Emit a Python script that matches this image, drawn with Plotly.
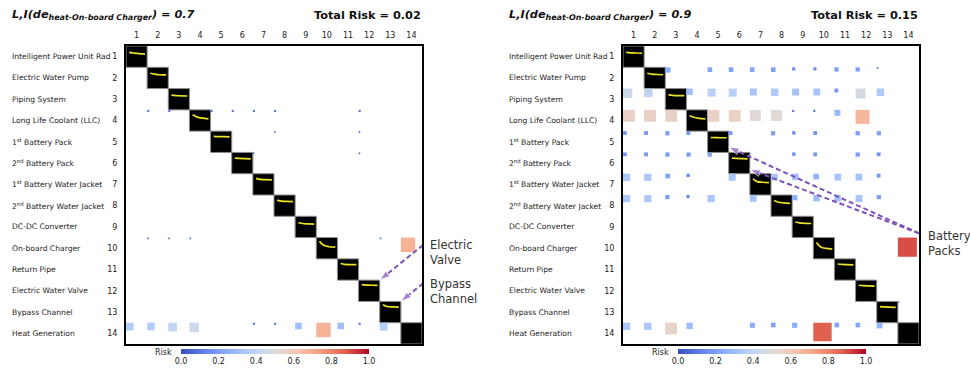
import plotly.graph_objects as go
from plotly.colors import sample_colorscale

W, H = 970, 369
FONT = "DejaVu Sans"

# ---------------- data ----------------
n_items = 14
item_ids = list(range(1, 15))
item_labels = ["Intelligent Power Unit Rad", "Electric Water Pump", "Piping System",
               "Long Life Coolant (LLC)", "1<sup>st</sup> Battery Pack", "2<sup>nd</sup> Battery Pack",
               "1<sup>st</sup> Battery Water Jacket", "2<sup>nd</sup> Battery Water Jacket",
               "DC-DC Converter", "On-board Charger", "Return Pipe", "Electric Water Valve",
               "Bypass Channel", "Heat Generation"]
cbar_ticks = [0.0, 0.2, 0.4, 0.6, 0.8, 1.0]

# Left panel: L,I = 0.7, total risk 0.02
left_li = 0.7
left_total = 0.02
left_rows = [4, 4, 4, 4, 4, 4, 4,
             5, 5,
             6, 6,
             10, 10, 10, 10, 10,
             14, 14, 14, 14, 14, 14, 14, 14, 14, 14, 14]
left_cols = [2, 3, 5, 6, 7, 8, 12,
             8, 12,
             7, 12,
             2, 3, 4, 13, 14,
             1, 2, 3, 4, 7, 8, 9, 10, 11, 12, 13]
left_vals = [0.1, 0.1, 0.1, 0.1, 0.1, 0.1, 0.1,
             0.08, 0.08,
             0.07, 0.08,
             0.08, 0.08, 0.08, 0.08, 0.68,
             0.36, 0.36, 0.41, 0.45, 0.1, 0.1, 0.31, 0.68, 0.31, 0.1, 0.37]

# Right panel: L,I = 0.9, total risk 0.15
right_li = 0.9
right_total = 0.15
right_rows = ([2] * 10 + [3] * 12 + [4] * 11 + [5] * 10 + [6] * 9 + [7] * 11 + [8] * 11
              + [10, 13] + [14] * 11)
right_cols = ([3, 5, 6, 7, 8, 9, 10, 11, 12, 13]
              + [1, 2, 4, 5, 6, 7, 8, 9, 10, 11, 12, 13]
              + [1, 2, 3, 5, 6, 7, 8, 9, 10, 11, 12]
              + [1, 2, 3, 4, 6, 8, 9, 10, 12, 13]
              + [1, 2, 3, 4, 5, 9, 10, 12, 13]
              + [1, 2, 3, 4, 6, 8, 9, 10, 11, 12, 13]
              + [1, 2, 3, 4, 5, 7, 9, 10, 11, 12, 13]
              + [14, 14]
              + [1, 2, 3, 4, 7, 8, 9, 10, 11, 12, 13])
right_vals = ([0.25, 0.22, 0.22, 0.22, 0.22, 0.15, 0.15, 0.2, 0.2, 0.08]
              + [0.44, 0.4, 0.3, 0.38, 0.38, 0.33, 0.35, 0.33, 0.33, 0.18, 0.47, 0.35]
              + [0.56, 0.56, 0.56, 0.56, 0.56, 0.52, 0.52, 0.1, 0.1, 0.28, 0.66]
              + [0.18, 0.18, 0.2, 0.18, 0.18, 0.2, 0.16, 0.18, 0.2, 0.2]
              + [0.18, 0.18, 0.2, 0.2, 0.2, 0.16, 0.18, 0.2, 0.18]
              + [0.34, 0.34, 0.22, 0.16, 0.33, 0.32, 0.3, 0.27, 0.32, 0.32, 0.18]
              + [0.34, 0.34, 0.2, 0.15, 0.34, 0.32, 0.25, 0.3, 0.3, 0.33, 0.2]
              + [0.9, 0.07]
              + [0.34, 0.34, 0.55, 0.3, 0.24, 0.22, 0.24, 0.87, 0.22, 0.22, 0.27])

# small response curves drawn in diagonal cells (relative heights at 4 sample points)
curve_fracs = [0.15, 0.35, 0.6, 0.9]
left_curves = [[0.30, 0.33, 0.36, 0.37], [0.28, 0.32, 0.35, 0.36], [0.31, 0.33, 0.34, 0.35],
               [0.23, 0.33, 0.39, 0.42], [0.25, 0.26, 0.26, 0.27], [0.27, 0.28, 0.29, 0.30],
               [0.22, 0.27, 0.28, 0.29], [0.24, 0.29, 0.30, 0.31], [0.29, 0.34, 0.36, 0.37],
               [0.18, 0.36, 0.43, 0.45], [0.22, 0.26, 0.27, 0.27], [0.21, 0.23, 0.24, 0.25],
               [0.16, 0.24, 0.26, 0.27]]
right_curves = [[0.30, 0.32, 0.33, 0.34], [0.28, 0.32, 0.34, 0.35], [0.30, 0.32, 0.33, 0.33],
                [0.26, 0.35, 0.40, 0.42], [0.30, 0.30, 0.31, 0.31], [0.27, 0.28, 0.29, 0.30],
                [0.24, 0.37, 0.40, 0.42], [0.26, 0.34, 0.37, 0.39], [0.27, 0.31, 0.33, 0.34],
                [0.23, 0.44, 0.51, 0.54], [0.24, 0.26, 0.27, 0.28], [0.24, 0.26, 0.27, 0.28],
                [0.24, 0.26, 0.27, 0.28]]

coolwarm = [[0.0, "rgb(59,76,192)"], [0.125, "rgb(98,130,234)"], [0.25, "rgb(141,176,254)"],
            [0.375, "rgb(184,208,249)"], [0.5, "rgb(221,221,221)"], [0.625, "rgb(245,196,173)"],
            [0.75, "rgb(244,154,123)"], [0.875, "rgb(222,96,77)"], [1.0, "rgb(180,4,38)"]]

ARROW_C = "#7d52bd"


def px(x):
    return x / W


def py(y):
    return 1 - y / H


fig = go.Figure()
shapes = []
annotations = []

panels = [
    dict(xa="x", ya="y", xl="xaxis", yl="yaxis", box=(126, 422), lbl_x=9.5,
         rows=left_rows, cols=left_cols, vals=left_vals, curves=left_curves,
         li=left_li, total=left_total, cax="coloraxis", cb_x=(181, 369), risk_x=153,
         arrows=[((14.55, 9.85), (12.5, 11.5)), ((14.55, 11.65), (13.5, 12.5))],
         notes=[("Electric<br>Valve", 428, 253), ("Bypass<br>Channel", 428, 291)]),
    dict(xa="x2", ya="y2", xl="xaxis2", yl="yaxis2", box=(623, 919), lbl_x=507,
         rows=right_rows, cols=right_cols, vals=right_vals, curves=right_curves,
         li=right_li, total=right_total, cax="coloraxis2", cb_x=(678, 866), risk_x=650,
         arrows=[((14.5, 9.3), (5.5, 5.25)), ((14.5, 9.3), (6.5, 6.3))],
         notes=[("Battery<br>Packs", 926, 243)]),
]

top, bottom = 46, 344

for p in panels:
    # diagonal cells
    for i in item_ids:
        shapes.append(dict(type="rect", xref=p["xa"], yref=p["ya"], x0=i - 0.5, x1=i + 0.5,
                           y0=i - 0.5, y1=i + 0.5, fillcolor="black",
                           line=dict(color="#8c8c8c", width=1), layer="below"))
    # risk squares
    for r, c, v in zip(p["rows"], p["cols"], p["vals"]):
        col = sample_colorscale(coolwarm, [v])[0]
        shapes.append(dict(type="rect", xref=p["xa"], yref=p["ya"], x0=c - 0.5, x1=c - 0.5 + v,
                           y0=r - 0.5, y1=r - 0.5 + v, fillcolor=col, line=dict(width=0),
                           layer="below"))
    # curves
    cx, cy = [], []
    for i, cv in enumerate(p["curves"], start=1):
        cx += [i - 0.5 + f for f in curve_fracs] + [None]
        cy += [i - 0.5 + h for h in cv] + [None]
    fig.add_trace(go.Scatter(x=cx, y=cy, xaxis=p["xa"], yaxis=p["ya"], mode="lines",
                             line=dict(color="#ece22a", width=1.7, shape="spline"),
                             hoverinfo="skip"))
    # colorbar dummy
    fig.add_trace(go.Scatter(x=[1, 1], y=[1, 1], xaxis=p["xa"], yaxis=p["ya"], mode="markers",
                             marker=dict(size=0, color=[0, 1], coloraxis=p["cax"], opacity=0),
                             hoverinfo="skip"))
    # arrows
    for (tx, ty), (hx, hy) in p["arrows"]:
        fig.add_trace(go.Scatter(x=[tx, hx], y=[ty, hy], xaxis=p["xa"], yaxis=p["ya"],
                                 mode="lines+markers", cliponaxis=False,
                                 line=dict(color=ARROW_C, width=2, dash="5px,3px"),
                                 marker=dict(symbol=["circle", "arrow"], size=[0, 11],
                                             angleref="previous", color=ARROW_C),
                                 hoverinfo="skip"))
    for txt, x, y in p["notes"]:
        annotations.append(dict(text=txt, xref="paper", yref="paper", x=px(x), y=py(y),
                                xanchor="left", yanchor="middle", showarrow=False, align="left",
                                font=dict(family=FONT, size=11.5, color="#333")))
    # row labels
    for i, lab in zip(item_ids, item_labels):
        annotations.append(dict(text=lab, xref="paper", yref=p["ya"], x=px(p["lbl_x"]), y=i,
                                xanchor="left", yanchor="middle", showarrow=False,
                                font=dict(family=FONT, size=7.6, color="#222")))
    # titles
    annotations.append(dict(text=f"<b><i>L,I(de<sub>heat-On-board Charger</sub>) = {p['li']}</i></b>",
                            xref="paper", yref="paper", x=px(p["lbl_x"]), y=py(15),
                            xanchor="left", yanchor="middle", showarrow=False,
                            font=dict(family=FONT, size=11.3, color="#111")))
    annotations.append(dict(text=f"<b>Total Risk = {p['total']:.2f}</b>",
                            xref="paper", yref="paper", x=px(p["box"][1] + 1), y=py(15),
                            xanchor="right", yanchor="middle", showarrow=False,
                            font=dict(family=FONT, size=11.3, color="#111")))
    annotations.append(dict(text="Risk", xref="paper", yref="paper", x=px(p["risk_x"]), y=py(352),
                            xanchor="left", yanchor="middle", showarrow=False,
                            font=dict(family=FONT, size=8, color="#222")))

    axis_common = dict(showgrid=False, zeroline=False, showline=True, mirror=True,
                       linecolor="black", linewidth=2, ticks="", tickvals=item_ids,
                       tickfont=dict(family=FONT, size=8, color="#222"))
    fig.layout[p["xl"]] = dict(axis_common, domain=[px(p["box"][0]), px(p["box"][1])],
                               range=[0.5, 14.5], side="top", anchor=p["ya"],
                               ticklabelstandoff=3)
    fig.layout[p["yl"]] = dict(axis_common, domain=[py(bottom), py(top)],
                               range=[14.5, 0.5], anchor=p["xa"], ticklabelstandoff=5)
    cb0, cb1 = p["cb_x"]
    fig.layout[p["cax"]] = dict(
        cmin=0, cmax=1, colorscale=coolwarm,
        colorbar=dict(orientation="h", x=px((cb0 + cb1) / 2), xanchor="center",
                      len=(cb1 - cb0) / W, lenmode="fraction", thickness=5,
                      y=py(349), yanchor="top", xpad=0, ypad=0, outlinewidth=0,
                      tickvals=cbar_ticks, ticktext=[f"{t:.1f}" for t in cbar_ticks],
                      ticks="", tickfont=dict(family=FONT, size=8, color="#222")))

fig.update_layout(width=W, height=H, margin=dict(l=0, r=0, t=0, b=0), autosize=False,
                  paper_bgcolor="white", plot_bgcolor="white", showlegend=False,
                  hovermode=False, shapes=shapes, annotations=annotations,
                  font=dict(family=FONT))

fig.write_html("out.html", config={"displayModeBar": False},
               post_script="document.body.style.margin='0';document.body.style.overflow='hidden';")
